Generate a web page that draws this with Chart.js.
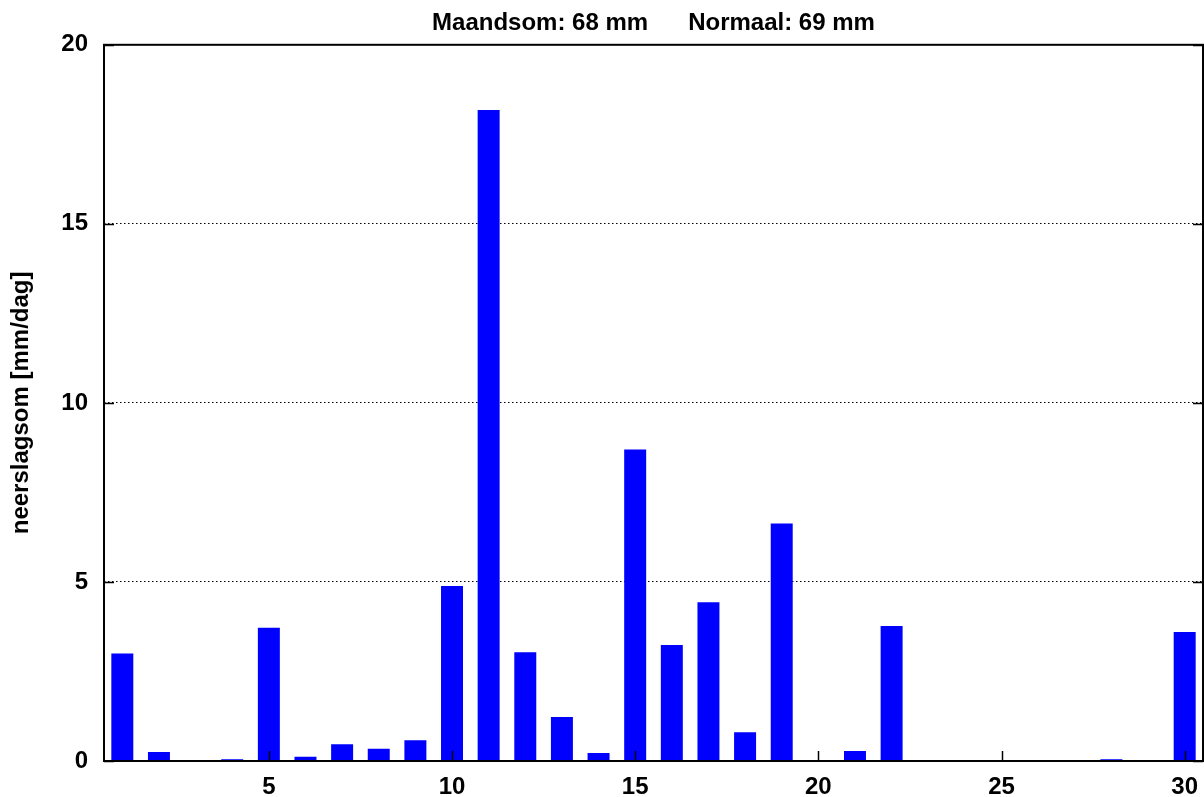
<!DOCTYPE html>
<html>
<head>
<meta charset="utf-8">
<script src="https://cdn.jsdelivr.net/npm/chart.js@4/dist/chart.umd.min.js"></script>
<style>
  html, body { margin: 0; padding: 0; background: #ffffff; }
  #wrap { width: 1204px; height: 797px; }
</style>
</head>
<body>
<div id="wrap"><canvas id="c" width="1204" height="797"></canvas></div>
<script>
// ---- data ----
const days = ['1','2','3','4','5','6','7','8','9','10','11','12','13','14','15','16','17','18','19','20','21','22','23','24','25','26','27','28','29','30'];
const precipitation = [3.00, 0.25, 0, 0.05, 3.72, 0.12, 0.47, 0.34, 0.58, 4.89, 18.18, 3.04, 1.23, 0.22, 8.70, 3.24, 4.43, 0.80, 6.63, 0, 0.28, 3.77, 0.02, 0, 0, 0, 0, 0.05, 0, 3.60];
const xTickLabels = [5, 10, 15, 20, 25, 30];
const yTicks = [0, 5, 10, 15, 20];
const monthSum = 68;
const normalSum = 69;
const yTitle = 'neerslagsom [mm/dag]';

const FONT = "'Liberation Sans', Arial, Helvetica, sans-serif";

const frame = {
  id: 'frame',
  afterDatasetsDraw(chart) {
    const {ctx, chartArea: a} = chart;
    ctx.save();
    ctx.strokeStyle = '#000';
    ctx.lineWidth = 2;
    ctx.strokeRect(a.left, a.top, a.right - a.left, a.bottom - a.top);
    ctx.restore();
  },
  afterDraw(chart) {
    const {ctx, chartArea: a, scales} = chart;
    ctx.save();
    ctx.strokeStyle = '#000';
    ctx.lineWidth = 1.5;
    ctx.beginPath();
    yTicks.forEach(v => {
      const y = Math.round(scales.y.getPixelForValue(v)) + 0.5;
      ctx.moveTo(a.left, y); ctx.lineTo(a.left + 10, y);
      ctx.moveTo(a.right - 10, y); ctx.lineTo(a.right, y);
    });
    xTickLabels.forEach(d => {
      const x = Math.round(scales.x.getPixelForValue(days.indexOf(String(d)))) + 0.5;
      ctx.moveTo(x, a.bottom); ctx.lineTo(x, a.bottom - 10);
    });
    ctx.stroke();
    ctx.restore();
  }
};

new Chart(document.getElementById('c'), {
  type: 'bar',
  data: {
    labels: days,
    datasets: [{
      data: precipitation,
      backgroundColor: '#0000ff',
      borderWidth: 0,
      barPercentage: 0.6,
      categoryPercentage: 1.0
    }]
  },
  options: {
    responsive: false,
    animation: false,
    layout: { padding: { left: 0, right: 1, top: 0, bottom: 0 } },
    plugins: {
      legend: { display: false },
      tooltip: { enabled: false },
      title: {
        display: true,
        fullSize: false,
        text: 'Maandsom: ' + monthSum + ' mm      Normaal: ' + normalSum + ' mm',
        color: '#000',
        font: { family: FONT, size: 24, weight: 'bold', lineHeight: 1.2 },
        padding: { top: 9, bottom: 7 }
      }
    },
    scales: {
      x: {
        type: 'category',
        offset: true,
        grid: { display: false, drawTicks: false },
        border: { display: false },
        ticks: {
          autoSkip: false,
          maxRotation: 0,
          padding: 12,
          color: '#000',
          font: { family: FONT, size: 24, weight: 'bold' },
          callback: function(value) {
            const lab = Number(this.getLabelForValue(value));
            return xTickLabels.includes(lab) ? String(lab) : '';
          }
        },
        afterFit(scale) {
          scale.height = 36;
          scale.paddingLeft = 0;
          scale.paddingRight = 0;
        }
      },
      y: {
        min: 0,
        max: 20,
        afterBuildTicks(scale) { scale.ticks = yTicks.map(v => ({ value: v })); },
        grid: {
          drawTicks: false,
          color: ctx => (ctx.tick && (ctx.tick.value === 0 || ctx.tick.value === 20)) ? 'rgba(0,0,0,0)' : '#000',
          lineWidth: 1
        },
        border: { display: false, dash: [1.5, 2.5] },
        ticks: {
          padding: 16,
          color: '#000',
          font: { family: FONT, size: 24, weight: 'bold' }
        },
        title: {
          display: true,
          text: yTitle,
          color: '#000',
          font: { family: FONT, size: 24, weight: 'bold', lineHeight: 1.2 },
          padding: { top: 7, bottom: 0 }
        },
        afterFit(scale) {
          scale.width = 104;
          scale.paddingTop = 0;
          scale.paddingBottom = 0;
        }
      }
    }
  },
  plugins: [frame]
});
</script>
</body>
</html>
